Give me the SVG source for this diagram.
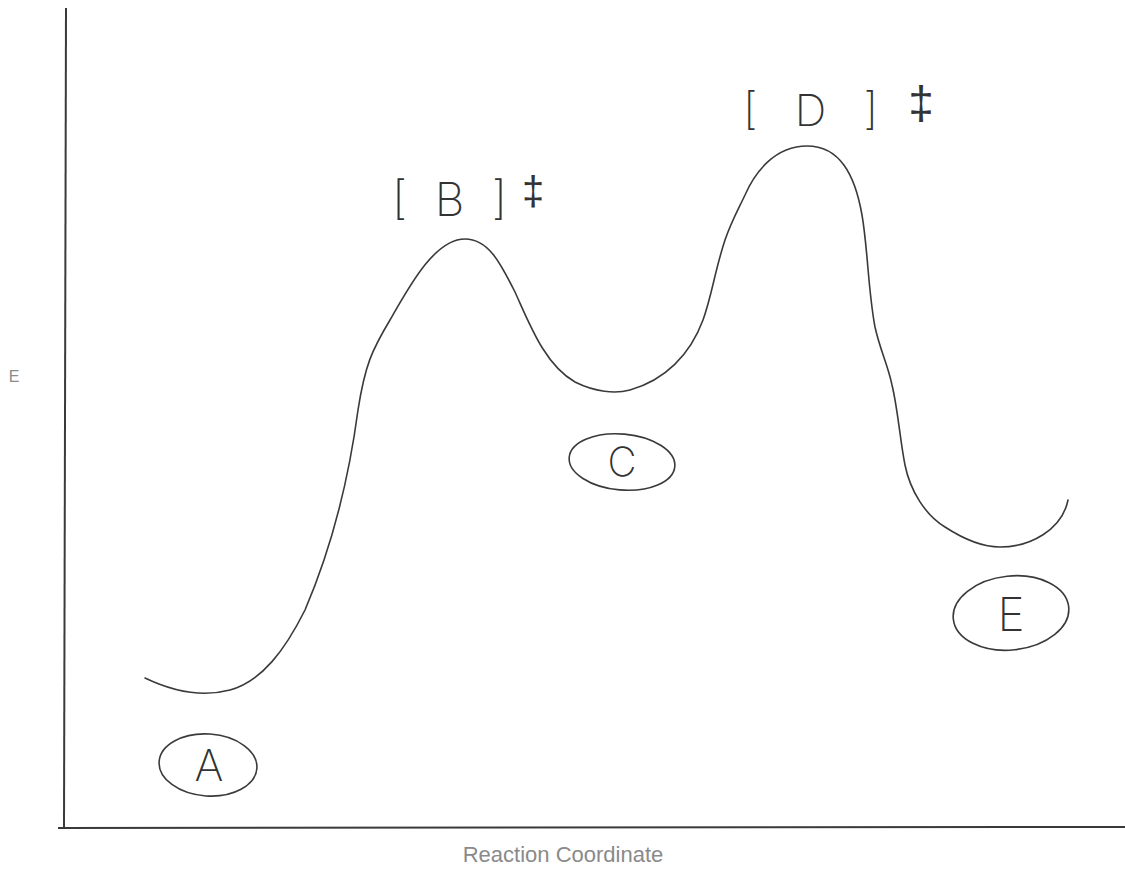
<svg xmlns="http://www.w3.org/2000/svg" width="1125" height="882" viewBox="0 0 1125 882">
<style>
.ax{stroke:#3a3a3a;stroke-width:2;fill:none}
.ink{stroke:#3a3a3a;stroke-width:1.6;fill:none;stroke-linecap:round;stroke-linejoin:round}
.hand{font-family:Inter,"Liberation Sans",sans-serif;font-weight:200;fill:#333}
.dag{font-family:"Liberation Sans",Arial,sans-serif;font-weight:normal;fill:#333}
.lbl{font-family:"Liberation Sans",Arial,sans-serif;fill:#8a8a8a}
</style>
<rect width="1125" height="882" fill="#fff"/>
<g id="axes">
<line class="ax" x1="66" y1="8" x2="64" y2="828"/>
<line class="ax" x1="58" y1="828" x2="1125" y2="827"/>
<text class="lbl" x="14" y="382" font-size="16" text-anchor="middle">E</text>
<text class="lbl" x="563" y="862" font-size="22" text-anchor="middle">Reaction Coordinate</text>
</g>
<g id="connectors">
<path class="ink" d="M145,678 C170,690 200,698 230,690 C262,681 285,650 305,610 C335,540 350,470 358,410 C365,365 372,350 390,320 C410,285 435,239 465,239 C488,239 500,262 515,292 C530,325 545,365 575,382 C595,392 615,394 630,390 C665,380 690,355 703,320 C712,295 715,270 725,240 C732,220 738,210 745,195 C755,172 775,146 807,146 C840,146 855,175 862,215 C868,250 868,290 875,327 C880,350 888,365 892,385 C898,410 900,440 905,465 C910,490 925,515 945,527 C965,540 985,547 1000,547 C1030,547 1062,530 1068,500"/>
</g>
<g id="node-A">
<ellipse class="ink" cx="208" cy="765" rx="49" ry="31" transform="rotate(4 208 765)"/>
<text class="hand" x="209" y="781" font-size="44" text-anchor="middle">A</text>
</g>
<g id="node-B">
<text class="hand" x="392" y="216" font-size="46" textLength="115" lengthAdjust="spacing">[B]</text>
<text class="dag" x="533" y="205" font-size="40" text-anchor="middle">‡</text>
</g>
<g id="node-D">
<text class="hand" x="743" y="126" font-size="44" textLength="135" lengthAdjust="spacing">[D]</text>
<text class="dag" x="921" y="119" font-size="46" text-anchor="middle">‡</text>
</g>
<g id="node-C">
<ellipse class="ink" cx="622" cy="462" rx="53" ry="28" transform="rotate(5 622 462)"/>
<text class="hand" x="622" y="476" font-size="40" text-anchor="middle">C</text>
</g>
<g id="node-E">
<ellipse class="ink" cx="1011" cy="613" rx="58" ry="37" transform="rotate(-6 1011 613)"/>
<text class="hand" x="1011" y="631" font-size="46" text-anchor="middle">E</text>
</g>
</svg>
